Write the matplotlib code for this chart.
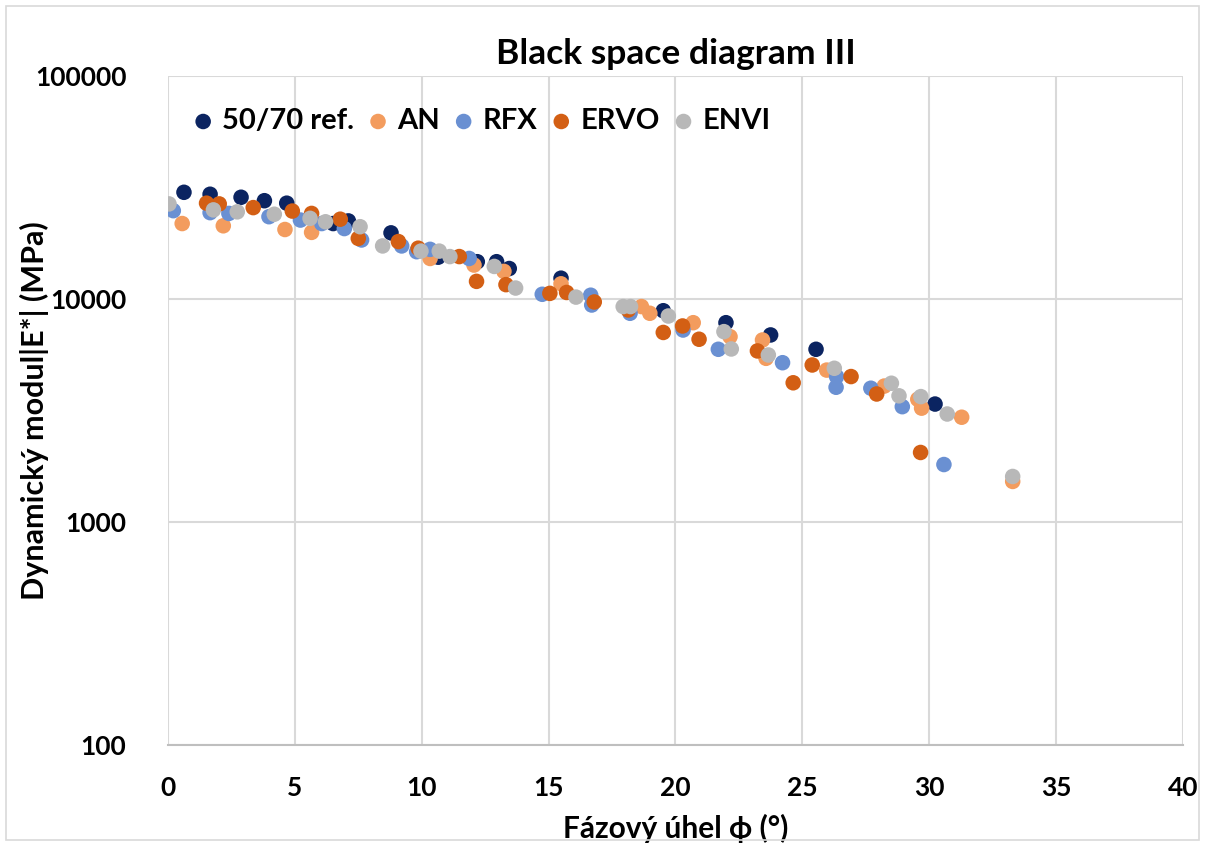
import matplotlib.pyplot as plt
from matplotlib.patches import Rectangle

plt.rcParams['font.family'] = ['Lato', 'DejaVu Sans']
plt.rcParams['font.weight'] = 'bold'

# phase angle (deg) and |E*| (MPa) per binder
ref_x = [0.63, 1.66, 2.88, 3.80, 4.68, 6.51, 7.11, 8.79, 10.65, 12.19, 12.95, 13.45,
         15.49, 19.52, 21.99, 23.75, 25.54, 30.23]
ref_y = [30100, 29500, 28600, 27600, 26900, 21800, 22400, 19800, 15400, 14700, 14700, 13700,
         12400, 8860, 7830, 6900, 5950, 3380]

an_x = [0.56, 2.18, 4.61, 5.66, 10.33, 12.06, 13.24, 15.49, 18.66, 18.99, 20.70, 22.15,
        23.43, 23.57, 25.96, 28.23, 29.55, 29.70, 31.28, 33.29]
an_y = [21800, 21300, 20500, 19900, 15200, 14200, 13300, 11700, 9250, 8630, 7830, 6780,
        6550, 5420, 4800, 4070, 3550, 3240, 2950, 1520]

rfx_x = [0.21, 1.66, 2.40, 3.98, 5.22, 6.06, 6.95, 7.63, 9.21, 9.80, 10.33, 11.87, 14.75,
         16.66, 16.70, 18.21, 20.30, 21.69, 24.22, 26.35, 26.33, 27.70, 28.94, 30.58]
rfx_y = [24900, 24400, 24200, 23400, 22600, 21800, 20700, 18400, 17300, 16300, 16700, 15200,
         10500, 10400, 9400, 8630, 7260, 5950, 5180, 4490, 4020, 3980, 3290, 1810]

ervo_x = [1.52, 2.02, 3.36, 4.90, 5.66, 6.79, 7.50, 9.08, 9.86, 11.48, 12.16, 13.32, 15.05,
          15.71, 16.80, 18.14, 19.52, 20.28, 20.93, 23.23, 24.64, 25.39, 26.92, 27.93, 29.66]
ervo_y = [26900, 26700, 25700, 24800, 24200, 22800, 18700, 18100, 16900, 15500, 12000, 11600,
          10600, 10700, 9700, 8930, 7080, 7570, 6600, 5850, 4210, 5060, 4490, 3750, 2050]

envi_x = [0.04, 1.79, 2.73, 4.19, 5.60, 6.21, 7.57, 8.46, 9.97, 10.69, 11.11, 12.86, 13.70,
          16.08, 17.94, 18.23, 19.72, 21.91, 22.20, 23.66, 26.26, 28.51, 28.81, 29.67, 30.71,
          33.29]
envi_y = [26700, 25100, 24600, 24000, 23000, 22200, 21100, 17300, 16400, 16400, 15500, 14000,
          11200, 10200, 9250, 9250, 8390, 7140, 5970, 5610, 4890, 4190, 3680, 3650, 3050, 1600]

series = [
    ("50/70 ref.", ref_x, ref_y, "#0B2461"),
    ("AN", an_x, an_y, "#F39C5E"),
    ("RFX", rfx_x, rfx_y, "#6A90D2"),
    ("ERVO", ervo_x, ervo_y, "#D35F14"),
    ("ENVI", envi_x, envi_y, "#B8B8B8"),
]

fig = plt.figure(figsize=(12.05, 8.43), dpi=100)
fig.patches.append(Rectangle((0.005, 0.003), 0.99, 0.99, transform=fig.transFigure,
                             fill=False, edgecolor="#D9D9D9", linewidth=1.2))
ax = fig.add_axes([0.1394, 0.1163, 0.8423, 0.7935])

for name, xs, ys, col in series:
    ax.scatter(xs, ys, s=125, color=col, edgecolors="none", label=name, zorder=3)

ax.set_yscale("log")
ax.set_ylim(100, 100000)
ax.set_xlim(0, 40)
ax.set_xticks(range(0, 41, 5))
ax.set_yticks([100, 1000, 10000, 100000])
ax.set_yticklabels(["100", "1000", "10000", "100000"])
ax.minorticks_off()
ax.grid(True, color="#D9D9D9", linewidth=1.5, zorder=0)
for s in ["top", "right", "left"]:
    ax.spines[s].set_visible(False)
ax.spines["bottom"].set_color("#BFBFBF")
ax.spines["bottom"].set_linewidth(1.5)
ax.tick_params(length=0, labelsize=19, colors="black")
ax.tick_params(axis="y", pad=30)
ax.tick_params(axis="x", pad=22)

ax.set_title("Black space diagram III", fontsize=25.5, fontweight="bold", pad=9)
ax.set_xlabel("Fázový úhel ϕ (°)", fontsize=21.5, fontweight="bold")
ax.set_ylabel("Dynamický modul|E*| (MPa)", fontsize=22, fontweight="bold")
ax.xaxis.set_label_coords(0.5, -0.103)
ax.yaxis.set_label_coords(-0.117, 0.5)

ax.legend(loc="upper left", bbox_to_anchor=(0.0246, 0.952), ncol=5, frameon=False,
          fontsize=21, handlelength=0.7, handletextpad=0.3, columnspacing=0.47,
          borderpad=0, borderaxespad=0, scatterpoints=1)

plt.savefig("out.png", dpi=100)
